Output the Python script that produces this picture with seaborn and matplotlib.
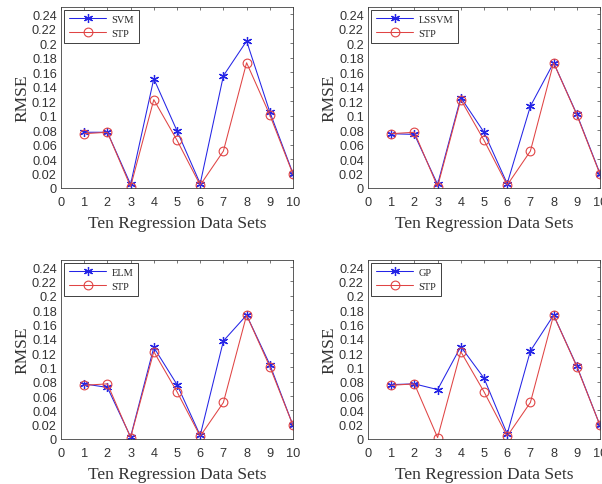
import numpy as np
import pandas as pd
import matplotlib
matplotlib.use("Agg")
import matplotlib.pyplot as plt
import seaborn as sns

datasets = [1, 2, 3, 4, 5, 6, 7, 8, 9, 10]
stp   = [0.075, 0.077, 0.002, 0.122, 0.066, 0.004, 0.051, 0.173, 0.101, 0.019]
svm   = [0.077, 0.077, 0.005, 0.151, 0.079, 0.006, 0.155, 0.203, 0.105, 0.020]
lssvm = [0.075, 0.074, 0.005, 0.125, 0.077, 0.006, 0.113, 0.173, 0.102, 0.020]
elm   = [0.077, 0.072, 0.003, 0.128, 0.076, 0.005, 0.137, 0.173, 0.104, 0.019]
gp    = [0.076, 0.077, 0.069, 0.129, 0.085, 0.007, 0.123, 0.173, 0.102, 0.019]

panels = [("SVM", svm), ("LSSVM", lssvm), ("ELM", elm), ("GP", gp)]
yticks = [0, 0.02, 0.04, 0.06, 0.08, 0.1, 0.12, 0.14, 0.16, 0.18, 0.2, 0.22, 0.24]
xticks = [0, 1, 2, 3, 4, 5, 6, 7, 8, 9, 10]

sns.set_theme(style="white")
plt.rcParams['font.family'] = ['Liberation Sans', 'DejaVu Sans']

fig = plt.figure(figsize=(6.02, 4.85), dpi=100)
W, H = 602, 485
boxes = [(61, 8, 232, 181), (368, 8, 232, 181), (61, 261, 232, 179), (368, 261, 232, 179)]

blue = "#2424e6"
red = "#e04444"
asterisk = (6, 2, 0)
for (name, vals), (l, t, w, h) in zip(panels, boxes):
    ax = fig.add_axes([l / W, 1 - (t + h) / H, w / W, h / H])
    df = pd.DataFrame({"x": datasets, name: vals, "STP": stp})
    sns.lineplot(data=df, x="x", y=name, ax=ax, color=blue, lw=0.75,
                 marker=asterisk, markersize=6.5, markeredgewidth=0.9,
                 markeredgecolor=blue, label=name)
    sns.lineplot(data=df, x="x", y="STP", ax=ax, color=red, lw=0.75,
                 marker="o", markersize=6.3, markerfacecolor="none",
                 markeredgewidth=0.8, markeredgecolor=red, label="STP")
    ax.set_xlim(0, 10)
    ax.set_ylim(0, 0.25)
    ax.set_xticks(xticks)
    ax.set_xticklabels([str(v) for v in xticks])
    ax.set_yticks(yticks)
    ax.set_yticklabels(["%g" % v for v in yticks])
    ax.tick_params(direction="in", length=2.5, width=0.5, labelsize=9.2,
                   top=True, right=True, colors="#404040", labelcolor="#333333")
    ax.tick_params(axis="x", pad=6)
    ax.tick_params(axis="y", pad=3)
    for s in ax.spines.values():
        s.set_linewidth(0.6)
        s.set_color("#404040")
        s.set_visible(True)
    ax.set_xlabel("Ten Regression Data Sets", family="Liberation Serif", fontsize=12.5,
                  color="#333333", labelpad=5)
    ax.set_ylabel("RMSE", family="Liberation Serif", fontsize=12.5, color="#333333", labelpad=1)
    leg = ax.legend(loc="upper left", prop={"family": "Liberation Serif", "size": 7.5},
                    frameon=True, fancybox=False, edgecolor="#202020", framealpha=1,
                    handlelength=3.6, borderaxespad=0.3, borderpad=0.45, labelspacing=0.45,
                    handletextpad=0.5)
    leg.get_frame().set_linewidth(0.6)

fig.savefig("out.png", dpi=100, facecolor="white")
